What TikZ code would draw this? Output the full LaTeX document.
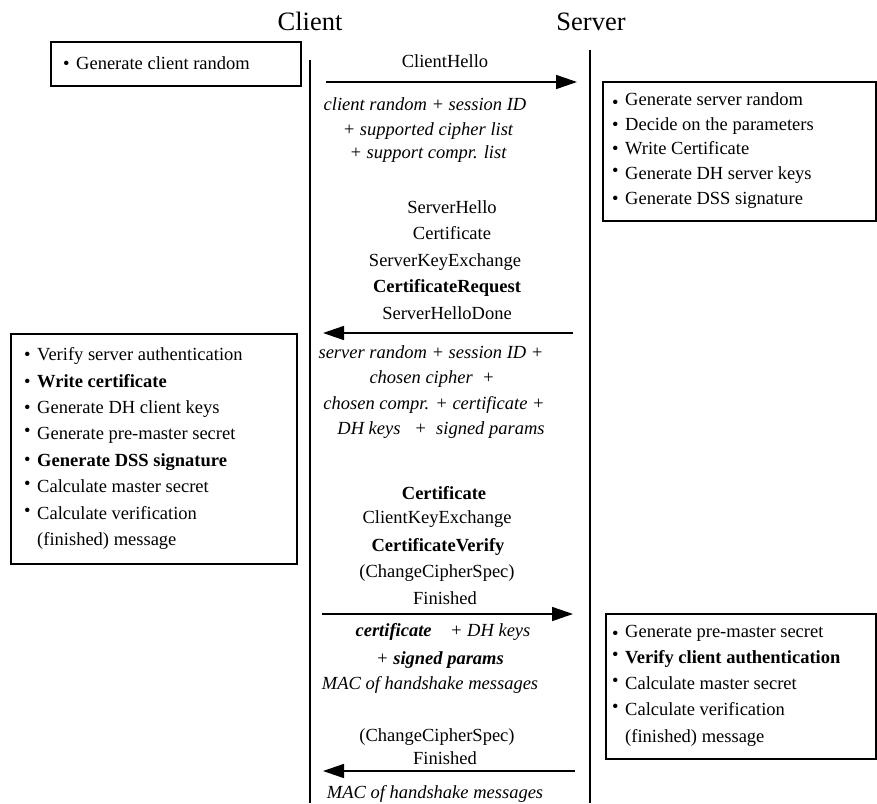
\documentclass[tikz,border=0pt]{standalone}
\usepackage{fontspec}
\setmainfont{Liberation Serif}
\usetikzlibrary{arrows.meta}
\newcommand{\itm}[2]{\makebox[13pt][l]{\raisebox{#1}{\textbullet}}#2}
\newcommand{\cont}[1]{\hspace*{13pt}#1}
\begin{document}
\begin{tikzpicture}[x=1pt,y=-1pt,
  txt/.style={font=\fontsize{18.5}{22}\selectfont, inner sep=0pt, anchor=base},
  itxt/.style={font=\fontsize{18.5}{22}\selectfont\itshape, inner sep=0pt, anchor=base},
  hdr/.style={font=\fontsize{26.5}{30}\selectfont, inner sep=0pt, anchor=base},
  box/.style={draw, line width=1.5pt, inner sep=0pt, anchor=north west},
  items/.style={inner sep=0pt, anchor=west, align=left},
  life/.style={line width=1.8pt},
  msg/.style={line width=1.6pt, -{Triangle[length=21pt,width=14pt]}}]
\useasboundingbox (0,0) rectangle (877,803);

% headers
\node[hdr] (client) at (310,30) {Client};
\node[hdr] (server) at (591,30) {Server};

% lifelines
\coordinate (cTop) at (310,60);
\coordinate (cBot) at (310,803);
\coordinate (sTop) at (590,50);
\coordinate (sBot) at (590,803);
\draw[life] (cTop) -- (cBot);
\draw[life] (sTop) -- (sBot);

% boxes
\node[box, minimum width=250pt, minimum height=44pt] (b1) at (50,41) {};
\node[items, font=\fontsize{18.5}{22}\selectfont] (b1t) at (63,63) {\itm{0pt}{Generate client random}};

\node[box, minimum width=273pt, minimum height=139pt] (b2) at (602,81) {};
\node[items, font=\fontsize{18.5}{24.75}\selectfont] (b2t) at (612,150.5) {%
\itm{-3pt}{Generate server random}\\
\itm{0pt}{Decide on the parameters}\\
\itm{0pt}{Write Certificate}\\
\itm{3pt}{Generate DH server keys}\\
\itm{0pt}{Generate DSS signature}};

\node[box, minimum width=286pt, minimum height=230pt] (b3) at (10,333) {};
\node[items, font=\fontsize{18.5}{26.4}\selectfont] (b3t) at (24,448.5) {%
\itm{0pt}{Verify server authentication}\\
\itm{0pt}{\textbf{Write certificate}}\\
\itm{0pt}{Generate DH client keys}\\
\itm{3pt}{Generate pre-master secret}\\
\itm{1pt}{\textbf{Generate DSS signature}}\\
\itm{3pt}{Calculate master secret}\\
\itm{3pt}{Calculate verification}\\
\cont{(finished) message}};

\node[box, minimum width=270pt, minimum height=145pt] (b4) at (605,613) {};
\node[items, font=\fontsize{18.5}{26.25}\selectfont] (b4t) at (612,685.5) {%
\itm{-2pt}{Generate pre-master secret}\\
\itm{3pt}{\textbf{Verify client authentication}}\\
\itm{3pt}{Calculate master secret}\\
\itm{3pt}{Calculate verification}\\
\cont{(finished) message}};

% messages
\node[txt] (m1) at (445,67) {ClientHello};
\coordinate (a1s) at (326,82);
\coordinate (a1e) at (577,82);
\draw[msg] (a1s) -- (a1e);
\node[itxt] (m1a) at (425,110) {client random + session ID};
\node[itxt] (m1b) at (428,135) {+ supported cipher list};
\node[itxt] (m1c) at (428,158) {+ support compr. list};

\node[txt] (m2a) at (452,213) {ServerHello};
\node[txt] (m2b) at (452,239) {Certificate};
\node[txt] (m2c) at (445,266) {ServerKeyExchange};
\node[txt] (m2d) at (447,292) {\textbf{CertificateRequest}};
\node[txt] (m2e) at (447,319) {ServerHelloDone};
\coordinate (a2s) at (573,333);
\coordinate (a2e) at (323,333);
\draw[msg] (a2s) -- (a2e);
\node[itxt] (m2f) at (431,358) {server random + session ID +};
\node[itxt] (m2g) at (432,383) {chosen cipher\ \ +};
\node[itxt] (m2h) at (434,409) {chosen compr. + certificate +};
\node[itxt] (m2i) at (441,434) {DH keys\ \ \ +\ \ signed params};

\node[txt] (m3a) at (444,499) {\textbf{Certificate}};
\node[txt] (m3b) at (437,523) {ClientKeyExchange};
\node[txt] (m3c) at (438,551) {\textbf{CertificateVerify}};
\node[txt] (m3d) at (437,577) {(ChangeCipherSpec)};
\node[txt] (m3e) at (445,604) {Finished};
\coordinate (a3s) at (322,614);
\coordinate (a3e) at (573,614);
\draw[msg] (a3s) -- (a3e);
\node[itxt] (m3f) at (443,636) {\textbf{certificate}\quad + DH keys};
\node[itxt] (m3g) at (440,664) {+ \textbf{signed params}};
\node[itxt] (m3h) at (430,689) {MAC of handshake messages};

\node[txt] (m4a) at (437,741) {(ChangeCipherSpec)};
\node[txt] (m4b) at (445,764) {Finished};
\coordinate (a4s) at (575,771);
\coordinate (a4e) at (323,771);
\draw[msg] (a4s) -- (a4e);
\node[itxt] (m4c) at (435,798) {MAC of handshake messages};
\end{tikzpicture}
\end{document}
